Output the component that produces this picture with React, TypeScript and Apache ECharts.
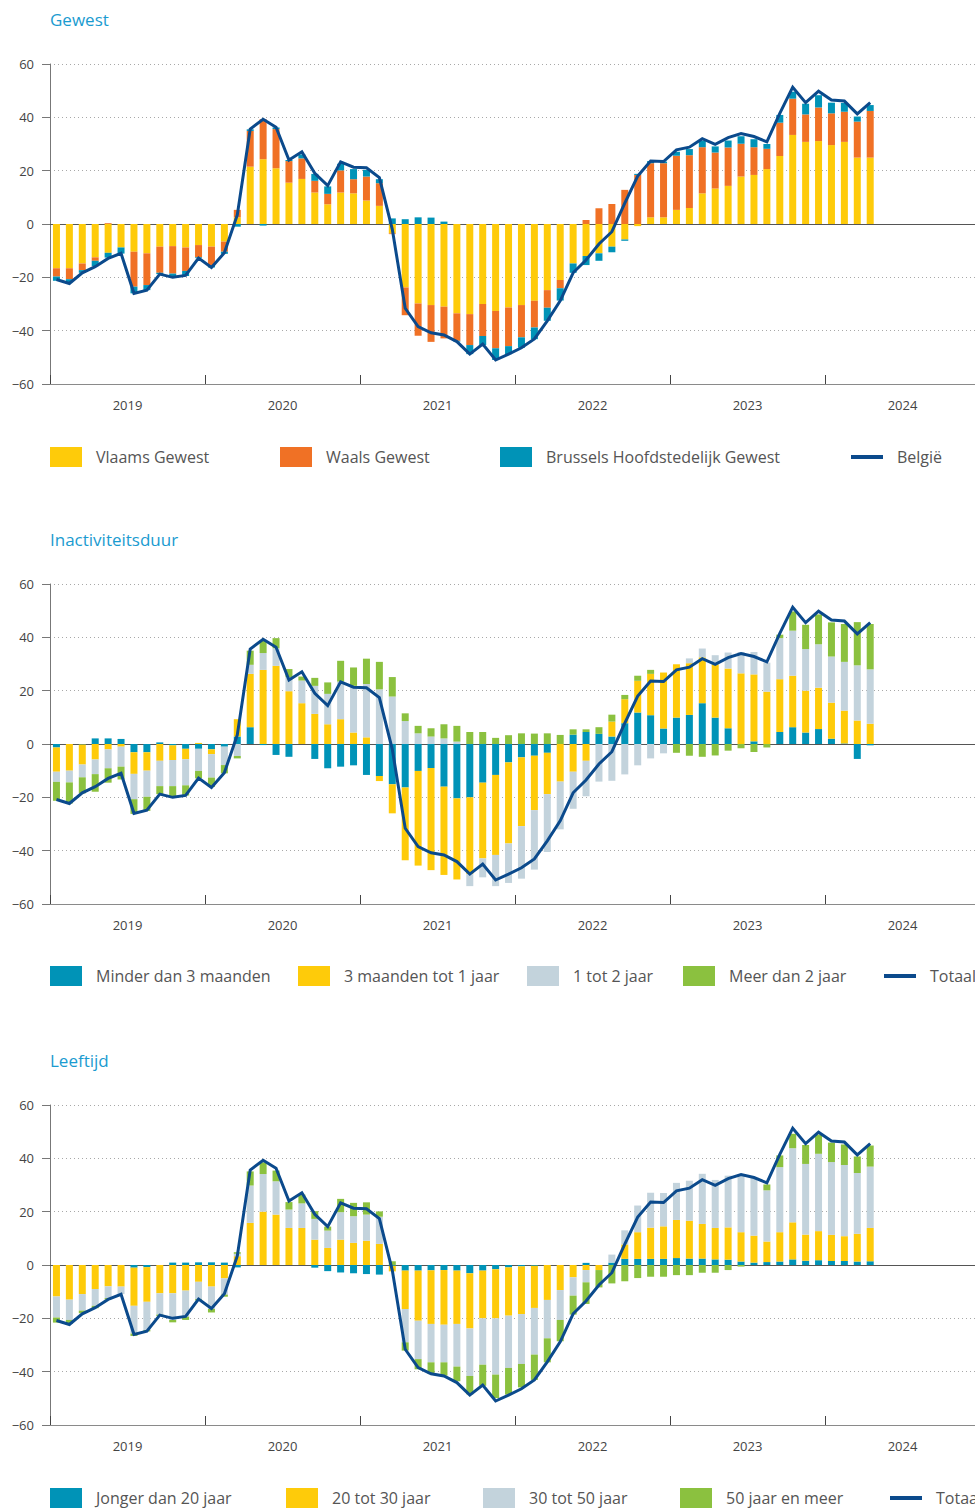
import React, { useEffect, useRef } from 'react';
import * as echarts from 'echarts';

// ---------- categories ----------
const YEARS = ['2019', '2020', '2021', '2022', '2023', '2024'];
const MONTHS = ['jan', 'feb', 'mrt', 'apr', 'mei', 'jun', 'jul', 'aug', 'sep', 'okt', 'nov', 'dec'];
const MONTH_CATEGORIES = YEARS.flatMap((y) => MONTHS.map((m) => `${m} ${y}`));

// ---------- total line (same in the three panels) ----------
const TOTAAL = [
  -20.8, -22.3, -18.3, -16.0, -12.9, -11.0, -26.0, -24.8, -18.8, -20.0, -19.3, -12.8,
  -16.3, -10.8, 3.4, 35.6, 39.3, 36.3, 24.0, 27.1, 19.0, 14.4, 23.3, 21.3,
  21.1, 17.4, -2.0, -31.6, -38.5, -40.8, -41.6, -44.1, -48.8, -45.0, -51.0, -48.8,
  -46.4, -43.1, -36.3, -28.8, -18.3, -13.5, -7.5, -2.9, 7.8, 18.0, 23.6, 23.4,
  27.8, 28.8, 32.0, 29.9, 32.4, 33.9, 32.8, 30.8, 41.5, 51.3, 45.5, 49.8,
  46.5, 46.1, 41.3, 45.5,
];

// ---------- panel 1: Gewest ----------
const VLAAMS = [
  -16.6, -16.6, -14.8, -12.5, -10.8, -8.8, -10.4, -11.0, -8.5, -8.3, -8.8, -7.9,
  -8.5, -6.6, 2.5, 21.5, 24.3, 20.9, 15.5, 16.9, 11.8, 7.4, 11.8, 11.5,
  8.8, 6.8, -3.5, -23.8, -29.8, -30.4, -31.0, -33.5, -33.8, -30.0, -32.6, -31.3,
  -30.4, -28.8, -24.8, -21.0, -14.8, -12.0, -11.0, -8.5, -5.8, -0.8, 2.5, 2.5,
  5.3, 6.0, 11.5, 13.3, 14.3, 17.8, 18.4, 20.6, 25.5, 33.4, 30.8, 31.1,
  29.6, 30.8, 24.9, 24.9,
];
const WAALS = [
  -3.1, -4.1, -2.5, -1.3, 0.3, 0, -13.1, -11.9, -9.8, -10.3, -8.8, -4.6,
  -6.9, -3.8, 2.8, 13.4, 15.0, 14.7, 8.1, 7.7, 4.4, 3.9, 8.3, 5.3,
  9.0, 8.5, -0.3, -10.4, -12.1, -13.8, -11.9, -10.3, -11.6, -12.0, -14.0, -14.5,
  -12.1, -10.0, -6.6, -3.1, 0, 1.5, 5.9, 7.5, 12.8, 18.4, 20.3, 20.3,
  20.3, 19.8, 17.3, 13.5, 14.4, 12.3, 10.4, 7.6, 12.5, 13.6, 10.3, 12.6,
  11.9, 11.3, 13.5, 17.5,
];
const BRUSSEL = [
  -1.6, -1.1, -1.0, -2.0, -1.8, -2.3, -2.5, -1.9, -0.5, -1.3, -1.9, -0.3,
  -0.9, -0.8, -1.0, 0.6, -0.6, 0.6, 0.4, 1.5, 2.6, 2.8, 2.5, 3.8,
  2.5, 1.5, 2.1, 1.8, 2.5, 2.4, 0.9, -0.3, -3.4, -3.4, -4.4, -3.0,
  -3.9, -4.4, -4.9, -4.6, -3.5, -3.4, -2.8, -2.1, -0.5, 0.4, 0.8, 0.6,
  1.5, 2.3, 2.5, 2.3, 2.6, 2.8, 3.0, 1.8, 2.9, 2.6, 4.0, 4.6,
  4.0, 3.3, 1.9, 2.2,
];

// ---------- panel 2: Inactiviteitsduur ----------
const MINDER_3M = [
  -1.3, 0, -0.2, 2.1, 2.1, 1.9, -3.1, -3.1, 0.6, -0.5, -1.8, -1.8,
  -2.0, -1.0, 2.8, 6.3, -0.4, -4.1, -4.8, 0, -5.6, -9.1, -8.5, -8.0,
  -11.6, -12.0, -15.1, -16.3, -10.1, -9.0, -16.0, -20.4, -20.0, -14.5, -11.6, -6.9,
  -5.0, -4.4, -3.3, 0, 3.5, 4.5, 3.8, 2.8, 7.8, 11.8, 10.8, 5.8,
  9.9, 10.9, 15.3, 9.9, 5.9, 0, 1.0, 0, 4.5, 6.3, 4.3, 5.6,
  2.0, 0.2, -5.6, -0.5,
];
const M3_TOT_1J = [
  -9.1, -10.0, -7.5, -5.8, -2.0, -1.0, -8.1, -6.9, -6.3, -5.5, -3.9, 0.4,
  -1.8, 0, 6.5, 20.0, 27.8, 29.3, 19.8, 15.3, 11.3, 7.4, 9.3, 4.3,
  2.5, -1.9, -10.9, -27.3, -35.5, -38.3, -33.1, -30.4, -28.8, -28.4, -30.0, -30.4,
  -25.8, -20.4, -15.5, -14.1, -10.4, -6.3, 0, 5.6, 9.0, 11.9, 15.5, 21.0,
  20.0, 19.4, 17.2, 20.0, 22.4, 26.5, 25.1, 19.6, 19.8, 19.3, 15.7, 15.5,
  13.5, 12.3, 8.8, 7.6,
];
const J1_TOT_2J = [
  -3.8, -4.4, -4.8, -5.5, -7.1, -7.5, -9.5, -9.8, -9.5, -9.8, -9.8, -8.3,
  -8.8, -6.9, -4.5, 3.4, 6.3, 6.6, 5.3, 8.5, 10.5, 11.4, 14.1, 17.5,
  20.0, 20.5, 17.8, 8.6, 4.0, 2.8, 2.1, 0.9, -4.5, -7.1, -11.7, -14.8,
  -19.7, -22.3, -21.7, -17.9, -13.9, -13.3, -14.1, -13.8, -11.4, -8.0, -5.4, -3.5,
  0, 1.8, 3.3, 3.4, 6.0, 8.0, 8.4, 10.9, 15.4, 16.9, 15.6, 16.3,
  17.3, 18.3, 20.7, 20.4,
];
const MEER_2J = [
  -7.1, -7.9, -6.0, -6.6, -5.4, -4.8, -5.5, -5.3, -3.0, -3.8, -3.8, -2.8,
  -3.5, -3.1, -0.9, 5.3, 4.8, 3.8, 3.0, 1.5, 3.0, 4.3, 7.8, 6.9,
  9.5, 10.3, 7.3, 2.9, 2.8, 3.1, 5.3, 5.9, 4.5, 4.5, 2.3, 3.3,
  4.0, 3.9, 4.0, 3.4, 2.0, 1.0, 2.5, 2.6, 1.6, 1.9, 1.5, 0,
  -3.3, -4.4, -4.8, -4.3, -2.5, -1.6, -3.0, -1.3, 1.3, 7.2, 9.1, 11.2,
  12.8, 14.2, 16.2, 17.0,
];

// ---------- panel 3: Leeftijd ----------
const JONGER_20 = [
  0, 0, 0, 0, 0, 0, -1.0, -0.8, 0, 0.9, 0.9, 1.0,
  1.0, 0.9, -0.9, 0, 0, 0, 0, 0, -1.0, -2.3, -2.8, -3.1,
  -3.4, -3.6, -0.3, -2.1, -2.1, -2.0, -1.9, -2.1, -3.1, -2.1, -1.6, -0.9,
  -0.5, -0.3, 0, 0, 0, 0.8, 0, 0.9, 2.3, 2.3, 2.3, 2.3,
  2.6, 2.4, 2.4, 2.1, 2.0, 1.3, 0.9, 1.1, 1.3, 2.1, 1.6, 1.8,
  1.5, 1.5, 1.3, 1.4,
];
const J20_30 = [
  -11.8, -13.0, -10.9, -9.0, -8.0, -8.1, -14.3, -13.0, -10.6, -10.6, -9.6, -6.3,
  -8.1, -5.0, 3.3, 15.8, 20.0, 18.9, 13.9, 13.9, 9.5, 6.4, 9.5, 8.3,
  9.1, 7.9, -2.1, -14.4, -18.8, -20.1, -20.5, -20.0, -20.7, -17.9, -18.4, -18.1,
  -17.9, -15.8, -13.1, -9.4, -4.6, -1.9, -1.9, 0, 5.4, 10.0, 11.7, 12.2,
  14.3, 14.2, 13.0, 11.8, 12.1, 11.0, 10.1, 7.7, 11.0, 13.9, 9.8, 10.9,
  9.8, 9.3, 10.4, 12.5,
];
const J30_50 = [
  -7.9, -7.6, -6.2, -6.3, -4.4, -2.8, -10.4, -10.6, -8.0, -10.0, -9.8, -6.5,
  -8.4, -6.1, 0.9, 14.0, 14.1, 12.5, 6.9, 9.2, 7.8, 6.5, 10.3, 10.0,
  9.8, 10.2, 0, -12.5, -14.4, -14.4, -14.1, -16.0, -17.8, -17.4, -21.1, -19.6,
  -18.7, -17.5, -14.4, -11.2, -6.9, -4.6, 0, 3.0, 5.3, 10.0, 13.1, 12.5,
  13.9, 15.0, 18.8, 18.0, 19.4, 21.7, 21.6, 19.2, 24.4, 27.8, 26.5, 29.0,
  27.3, 26.7, 22.8, 23.0,
];
const J50_MEER = [
  -1.9, -1.5, -1.0, -0.9, -0.5, 0, -0.9, -0.5, -0.5, -0.9, -1.2, -0.5,
  -1.3, -0.8, 0.6, 5.3, 4.4, 4.0, 2.8, 3.3, 2.9, 1.5, 5.0, 5.0,
  4.6, 2.0, 1.4, -3.1, -3.8, -4.4, -5.0, -5.5, -6.9, -7.9, -8.8, -10.0,
  -8.8, -9.5, -9.0, -8.0, -7.1, -8.1, -6.5, -6.9, -6.1, -4.9, -4.4, -4.4,
  -3.8, -3.8, -2.9, -2.9, -1.9, -0.6, 0, 2.2, 4.4, 5.4, 7.1, 7.2,
  7.3, 7.7, 6.2, 7.9,
];

const Y_MIN = -60;
const Y_MAX = 60;
const Y_INTERVAL = 20;

// ---------- styling ----------
const C_YELLOW = '#fecb0a';
const C_ORANGE = '#f07125';
const C_TEAL = '#0093b7';
const C_GREY = '#c3d3dc';
const C_GREEN = '#8bc13f';
const C_LINE = '#0b4a8c';
const FONT = "'Open Sans', 'Noto Sans', sans-serif";

const PANELS = [
  {
    title: 'Gewest',
    titleTop: 11,
    gridTop: 64,
    legendCenter: 457,
    lineName: 'België',
    lineLeft: 851,
    bars: [
      { name: 'Vlaams Gewest', data: VLAAMS, color: C_YELLOW, left: 50 },
      { name: 'Waals Gewest', data: WAALS, color: C_ORANGE, left: 280 },
      { name: 'Brussels Hoofdstedelijk Gewest', data: BRUSSEL, color: C_TEAL, left: 500 },
    ],
  },
  {
    title: 'Inactiviteitsduur',
    titleTop: 531,
    gridTop: 584,
    legendCenter: 976,
    lineName: 'Totaal',
    lineLeft: 884,
    bars: [
      { name: 'Minder dan 3 maanden', data: MINDER_3M, color: C_TEAL, left: 50 },
      { name: '3 maanden tot 1 jaar', data: M3_TOT_1J, color: C_YELLOW, left: 298 },
      { name: '1 tot 2 jaar', data: J1_TOT_2J, color: C_GREY, left: 527 },
      { name: 'Meer dan 2 jaar', data: MEER_2J, color: C_GREEN, left: 683 },
    ],
  },
  {
    title: 'Leeftijd',
    titleTop: 1052,
    gridTop: 1105,
    legendCenter: 1498,
    lineName: 'Totaal',
    lineLeft: 890,
    bars: [
      { name: 'Jonger dan 20 jaar', data: JONGER_20, color: C_TEAL, left: 50 },
      { name: '20 tot 30 jaar', data: J20_30, color: C_YELLOW, left: 286 },
      { name: '30 tot 50 jaar', data: J30_50, color: C_GREY, left: 483 },
      { name: '50 jaar en meer', data: J50_MEER, color: C_GREEN, left: 680 },
    ],
  },
];

function buildOption() {
  const title: any[] = [];
  const grid: any[] = [];
  const xAxis: any[] = [];
  const yAxis: any[] = [];
  const series: any[] = [];
  const legend: any[] = [];

  PANELS.forEach((p, i) => {
    title.push({
      text: p.title,
      left: 50,
      top: p.titleTop,
      padding: 0,
      textStyle: { color: '#1a9bd0', fontSize: 17, fontWeight: 'normal', fontFamily: FONT },
    });
    grid.push({
      left: 50,
      top: p.gridTop,
      width: 930,
      height: 320,
      containLabel: false,
      outerBoundsMode: 'none',
    });

    // month axis (carries data, drawn as the zero line)
    xAxis.push({
      type: 'category',
      gridIndex: i,
      position: 'bottom',
      data: MONTH_CATEGORIES,
      axisLine: { show: true, onZero: true, lineStyle: { color: '#555', width: 1 } },
      axisTick: { show: false },
      axisLabel: { show: false },
      splitLine: { show: false },
    });
    // year axis (labels + boundary ticks at the bottom)
    xAxis.push({
      type: 'category',
      gridIndex: i,
      position: 'bottom',
      data: YEARS,
      boundaryGap: true,
      axisLine: { show: true, onZero: false, lineStyle: { color: '#8a8a8a', width: 1 } },
      axisTick: {
        show: true,
        inside: true,
        length: 9,
        interval: 0,
        alignWithLabel: false,
        lineStyle: { color: '#444' },
      },
      axisLabel: { show: true, interval: 0, color: '#444', fontSize: 13, margin: 14, fontFamily: FONT },
      splitLine: { show: false },
    });
    yAxis.push({
      type: 'value',
      gridIndex: i,
      min: Y_MIN,
      max: Y_MAX,
      interval: Y_INTERVAL,
      axisLine: { show: true, lineStyle: { color: '#777' } },
      axisTick: { show: true, length: 8, lineStyle: { color: '#777' } },
      axisLabel: {
        color: '#444',
        fontSize: 13,
        margin: 16,
        fontFamily: FONT,
        formatter: (v: number) => (v < 0 ? '\u2212' + Math.abs(v) : String(v)),
      },
      splitLine: { show: true, lineStyle: { type: [1, 3], color: '#a8a8a8', width: 1 } },
    });

    p.bars.forEach((b) => {
      series.push({
        type: 'bar',
        name: b.name,
        xAxisIndex: i * 2,
        yAxisIndex: i,
        stack: 'panel' + i,
        stackStrategy: 'samesign',
        barWidth: 7,
        data: b.data,
        itemStyle: { color: b.color },
        emphasis: { disabled: true },
      });
      legend.push({
        left: b.left,
        top: p.legendCenter - 10,
        padding: 0,
        itemGap: 0,
        itemWidth: 32,
        itemHeight: 20,
        icon: 'rect',
        selectedMode: false,
        data: [b.name],
        textStyle: { fontSize: 16, color: '#555', fontFamily: FONT, padding: [0, 0, 0, 9] },
      });
    });

    series.push({
      type: 'line',
      name: p.lineName,
      xAxisIndex: i * 2,
      yAxisIndex: i,
      data: TOTAAL,
      symbol: 'none',
      z: 10,
      lineStyle: { color: C_LINE, width: 3, join: 'miter' },
      itemStyle: { color: C_LINE },
      emphasis: { disabled: true },
    });
    legend.push({
      left: p.lineLeft,
      top: p.legendCenter - 8,
      padding: 0,
      itemGap: 0,
      itemWidth: 32,
      itemHeight: 4,
      icon: 'rect',
      selectedMode: false,
      data: [p.lineName],
      itemStyle: { color: C_LINE },
      textStyle: { fontSize: 16, color: '#555', fontFamily: FONT, padding: [0, 0, 0, 9] },
    });
  });

  return {
    animation: false,
    backgroundColor: '#ffffff',
    textStyle: { fontFamily: FONT },
    title,
    grid,
    xAxis,
    yAxis,
    legend,
    series,
  };
}

export default function App() {
  const ref = useRef<HTMLDivElement>(null);
  useEffect(() => {
    if (!ref.current) return;
    const chart = echarts.init(ref.current, null, { renderer: 'svg' });
    chart.setOption(buildOption() as any);
    return () => chart.dispose();
  }, []);
  return (
    <div
      ref={ref}
      style={{ position: 'absolute', left: 0, top: 0, width: 975, height: 1508, background: '#fff' }}
    />
  );
}
